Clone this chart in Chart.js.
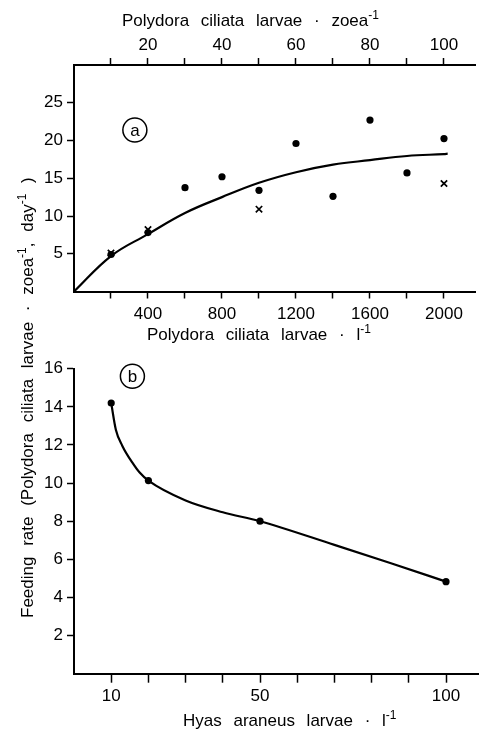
<!DOCTYPE html>
<html>
<head>
<meta charset="utf-8">
<script src="https://cdn.jsdelivr.net/npm/chart.js@4.4.0/dist/chart.umd.min.js"></script>
<style>
  html, body { margin: 0; padding: 0; background: #fff; }
  #wrap { position: relative; width: 482px; height: 733px; }
  canvas { position: absolute; left: 0; top: 0; }
</style>
</head>
<body>
<div id="wrap">
  <canvas id="chartA" width="482" height="733"></canvas>
  <canvas id="chartB" width="482" height="733"></canvas>
</div>
<script>
// panel a: feeding rate vs Polydora ciliata larvae per litre
const preyDensity = [200, 400, 600, 800, 1000, 1200, 1400, 1600, 1800, 2000];
const rateDots = [4.9, 7.8, 13.75, 15.2, 13.4, 19.6, 12.6, 22.7, 15.7, 20.25];
const crossDensity = [200, 400, 1000, 2000];
const rateCrosses = [5.1, 8.2, 10.9, 14.3];
const fitDensity = [0, 200, 400, 600, 800, 1000, 1200, 1400, 1600, 1800, 2000, 2020];
const fitRate = [0, 4.7, 7.6, 10.4, 12.5, 14.4, 15.8, 16.8, 17.4, 17.95, 18.2, 18.25];

// panel b: feeding rate vs Hyas araneus larvae per litre
const hyasDensity = [10, 20, 50, 100];
const rateB = [14.2, 10.13, 8.0, 4.83];
const curveHyas = [10, 11.25, 13, 15.7, 17.65, 20, 30, 40, 50, 70, 85, 100];
const curveRateB = [14.2, 12.8, 11.95, 11.07, 10.55, 10.13, 9.09, 8.47, 8.0, 6.76, 5.81, 4.83];

// ticks
const xTicksA = [200, 400, 600, 800, 1000, 1200, 1400, 1600, 1800, 2000];
const xLabelsA = [400, 800, 1200, 1600, 2000];
const topTicksA = [10, 20, 30, 40, 50, 60, 70, 80, 90, 100];
const topLabelsA = [20, 40, 60, 80, 100];
const yTicksA = [5, 10, 15, 20, 25];
const xTicksB = [10, 20, 30, 40, 50, 60, 70, 80, 90, 100];
const xLabelsB = [10, 50, 100];
const yTicksB = [2, 4, 6, 8, 10, 12, 14, 16];

const FONT = '"Liberation Sans", Arial, sans-serif';
const tickFont = { family: FONT, size: 17 };

const pts = (xs, ys) => xs.map((x, i) => ({ x: x, y: ys[i] }));
const fixTicks = list => s => { s.ticks = list.map(v => ({ value: v })); };
const labelIf = list => v => list.includes(v) ? String(v) : '';

// draws words with wider gaps and raised "-1" exponents
function drawRich(ctx, item) {
  ctx.save();
  ctx.translate(item.x, item.y);
  if (item.rot) ctx.rotate(item.rot);
  ctx.textBaseline = 'alphabetic';
  ctx.textAlign = 'left';
  ctx.fillStyle = '#000';
  let cx = 0;
  item.parts.forEach(p => {
    const sup = typeof p !== 'string';
    const txt = sup ? p.sup : p;
    ctx.font = (sup ? 12 : 17) + 'px ' + FONT;
    const dy = sup ? -7 : 0;
    const sp = ctx.measureText(' ').width + (item.ws || 0);
    txt.split(' ').forEach((w, i) => {
      if (i > 0) cx += sp;
      ctx.fillText(w, cx, dy);
      cx += ctx.measureText(w).width;
    });
  });
  ctx.restore();
}

const figText = {
  id: 'figText',
  afterDraw(chart, args, opts) {
    const ctx = chart.ctx;
    (opts.items || []).forEach(it => drawRich(ctx, it));
    (opts.circles || []).forEach(c => {
      const px = chart.scales.x.getPixelForValue(c.x);
      const py = chart.scales.y.getPixelForValue(c.y);
      ctx.save();
      ctx.strokeStyle = '#000';
      ctx.lineWidth = 1.5;
      ctx.beginPath();
      ctx.arc(px, py, 12, 0, Math.PI * 2);
      ctx.stroke();
      ctx.fillStyle = '#000';
      ctx.font = '17px ' + FONT;
      ctx.textAlign = 'center';
      ctx.textBaseline = 'middle';
      ctx.fillText(c.text, px, py + 1);
      ctx.restore();
    });
  }
};

const gridOpts = len => ({ drawOnChartArea: false, tickLength: len, tickWidth: 1.5, tickColor: '#000' });
const borderOpts = { color: '#000', width: 2 };

// panel a
new Chart(document.getElementById('chartA'), {
  type: 'scatter',
  data: {
    datasets: [
      { data: pts(fitDensity, fitRate), showLine: true, borderColor: '#000', borderWidth: 2.2,
        pointRadius: 0, tension: 0.4, fill: false },
      { data: pts(preyDensity, rateDots), pointStyle: 'circle', pointRadius: 3.6,
        backgroundColor: '#000', borderColor: '#000', borderWidth: 0 },
      { data: pts(crossDensity, rateCrosses), pointStyle: 'crossRot', pointRadius: 4.5,
        borderColor: '#000', borderWidth: 1.7 }
    ]
  },
  options: {
    responsive: false,
    animation: false,
    devicePixelRatio: 1,
    layout: { padding: { left: 0, right: 0, top: 0, bottom: 383 } },
    plugins: {
      legend: { display: false },
      tooltip: { enabled: false },
      figText: {
        items: [
          { parts: ['Polydora ciliata larvae · zoea', { sup: '-1' }], x: 122, y: 26, ws: 7 },
          { parts: ['Polydora ciliata larvae · l', { sup: '-1' }], x: 147, y: 340, ws: 7 },
          { parts: ['Feeding rate (Polydora ciliata larvae · zoea', { sup: '-1' }, ', day', { sup: '-1' }, ' )'],
            x: 33, y: 618, rot: -Math.PI / 2, ws: 6 }
        ],
        circles: [{ text: 'a', x: 329, y: 21.4 }]
      }
    },
    scales: {
      x: {
        type: 'linear', position: 'bottom', min: 0, max: 2172,
        afterBuildTicks: fixTicks(xTicksA),
        afterFit: s => { s.height = 58.5; },
        ticks: { callback: labelIf(xLabelsA), font: tickFont, color: '#000', padding: 6, maxRotation: 0, autoSkip: false },
        grid: gridOpts(7),
        border: borderOpts
      },
      xTop: {
        type: 'linear', axis: 'x', position: 'top', min: 0, max: 108.6,
        afterBuildTicks: fixTicks(topTicksA),
        afterFit: s => { s.height = 65; },
        ticks: { callback: labelIf(topLabelsA), font: tickFont, color: '#000', padding: 2, maxRotation: 0, autoSkip: false },
        grid: gridOpts(7),
        border: borderOpts
      },
      y: {
        type: 'linear', position: 'left', min: 0, max: 30,
        afterBuildTicks: fixTicks(yTicksA),
        afterFit: s => { s.width = 74; },
        ticks: { font: tickFont, color: '#000', padding: 4 },
        grid: gridOpts(7),
        border: borderOpts
      }
    }
  },
  plugins: [figText]
});

// panel b
new Chart(document.getElementById('chartB'), {
  type: 'scatter',
  data: {
    datasets: [
      { data: pts(curveHyas, curveRateB), showLine: true, borderColor: '#000', borderWidth: 2.2,
        pointRadius: 0, cubicInterpolationMode: 'monotone', fill: false },
      { data: pts(hyasDensity, rateB), pointStyle: 'circle', pointRadius: 3.6,
        backgroundColor: '#000', borderColor: '#000', borderWidth: 0 }
    ]
  },
  options: {
    responsive: false,
    animation: false,
    devicePixelRatio: 1,
    layout: { padding: { left: 0, right: 0, top: 368.7, bottom: 0 } },
    plugins: {
      legend: { display: false },
      tooltip: { enabled: false },
      figText: {
        items: [
          { parts: ['Hyas araneus larvae · l', { sup: '-1' }], x: 183, y: 726, ws: 7 }
        ],
        circles: [{ text: 'b', x: 15.7, y: 15.6 }]
      }
    },
    scales: {
      x: {
        type: 'linear', position: 'bottom', min: 0, max: 108.6,
        afterBuildTicks: fixTicks(xTicksB),
        afterFit: s => { s.height = 59.3; },
        ticks: { callback: labelIf(xLabelsB), font: tickFont, color: '#000', padding: 3, maxRotation: 0, autoSkip: false },
        grid: gridOpts(9),
        border: borderOpts
      },
      y: {
        type: 'linear', position: 'left', min: 0, max: 16,
        afterBuildTicks: fixTicks(yTicksB),
        afterFit: s => { s.width = 74; },
        ticks: { font: tickFont, color: '#000', padding: 4 },
        grid: gridOpts(7),
        border: borderOpts
      }
    }
  },
  plugins: [figText]
});
</script>
</body>
</html>
